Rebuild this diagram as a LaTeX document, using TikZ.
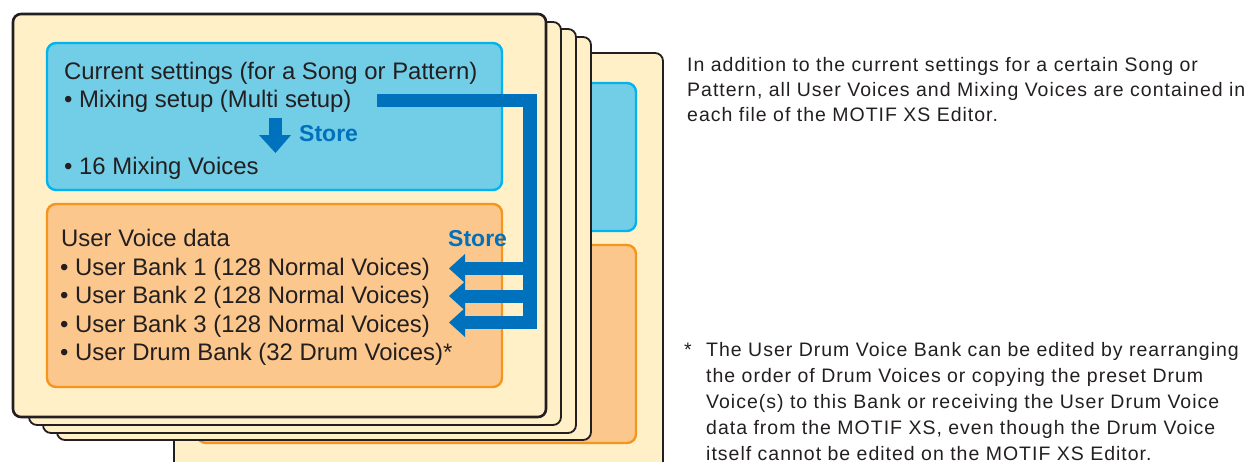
\documentclass[tikz,border=0pt]{standalone}
\usepackage{fontspec}
\setmainfont{Liberation Sans}
\newfontfamily\rfont[LetterSpace=5.1]{Liberation Sans}
\definecolor{cream}{HTML}{FFF0C8}
\definecolor{ink}{HTML}{231F20}
\definecolor{bluefill}{HTML}{72CDE7}
\definecolor{blueline}{HTML}{00B4F0}
\definecolor{orfill}{HTML}{FBC78C}
\definecolor{orline}{HTML}{F7941E}
\definecolor{arrowblue}{HTML}{0071BC}
\begin{document}
\begin{tikzpicture}[x=1pt,y=-1pt,
  card/.style={fill=cream, draw=ink, line width=1.8pt, rounded corners=8pt},
  frontcard/.style={card, line width=2.6pt},
  bluebox/.style={fill=bluefill, draw=blueline, line width=2.4pt, rounded corners=9pt},
  orbox/.style={fill=orfill, draw=orline, line width=2.4pt, rounded corners=9pt},
  arr/.style={fill=arrowblue, draw=none},
  ltxt/.style={anchor=base west, inner sep=0pt, text=ink, font=\fontsize{23.9}{28}\selectfont},
  rtxt/.style={anchor=base west, inner sep=0pt, text=ink, font=\rfont\fontsize{19.5}{24}\selectfont},
  storetxt/.style={anchor=base west, inner sep=0pt, text=arrowblue, font=\bfseries\fontsize{23}{28}\selectfont}]
\useasboundingbox (0,0) rectangle (1247,461);
\clip (0,0) rectangle (1247,461);
% back card
\draw[card] (174,53) rectangle (663,500);
\draw[bluebox] (200,83) rectangle (636,231);
\draw[orbox] (197,245) rectangle (636,443);
% stacked cards
\draw[card] (57,37) rectangle (591,440);
\draw[card] (43,29) rectangle (576,433);
\draw[card] (29,22) rectangle (561,425);
\draw[frontcard] (13,14) rectangle (546,417);
% front boxes
\draw[bluebox] (47,43) rectangle (502,190);
\draw[orbox] (47,204) rectangle (502,387);
% big store arrow
\fill[arr] (377,94) rectangle (537,107);
\fill[arr] (523,94) rectangle (537,329);
\foreach \c/\t/\b in {268.5/262/275, 296/289.5/302.5, 322.5/316/329}{
  \fill[arr] (462,\t) rectangle (524,\b);
  \fill[arr] (449,\c) -- (465,\c-14.5) -- (465,\c+14.5) -- cycle;
}
% down arrow
\fill[arr] (269,118) rectangle (282,136);
\fill[arr] (259,135) -- (291,135) -- (275.5,153) -- cycle;
% left texts
\node[ltxt] (cs) at (64,79) {Current settings (for a Song or Pattern)};
\node[ltxt] (mx) at (64,107) {• Mixing setup (Multi setup)};
\node[storetxt] (st1) at (299,141) {Store};
\node[ltxt] (mv) at (64,174) {• 16 Mixing Voices};
\node[ltxt] (uv) at (61,246) {User Voice data};
\node[storetxt] (st2) at (448,246) {Store};
\node[ltxt] (b1) at (60,275) {• User Bank 1 (128 Normal Voices)};
\node[ltxt] (b2) at (60,303.5) {• User Bank 2 (128 Normal Voices)};
\node[ltxt] (b3) at (60,332) {• User Bank 3 (128 Normal Voices)};
\node[ltxt] (b4) at (60,360) {• User Drum Bank (32 Drum Voices)*};
% right texts
\node[rtxt] (r1) at (687,71) {In addition to the current settings for a certain Song or};
\node[rtxt] (r2) at (687,96.3) {Pattern, all User Voices and Mixing Voices are contained in};
\node[rtxt] (r3) at (687,121.6) {each file of the MOTIF XS Editor.};
\node[rtxt] (fa) at (684,356) {*};
\node[rtxt] (f1) at (706,356) {The User Drum Voice Bank can be edited by rearranging};
\node[rtxt] (f2) at (706,382) {the order of Drum Voices or copying the preset Drum};
\node[rtxt] (f3) at (706,408) {Voice(s) to this Bank or receiving the User Drum Voice};
\node[rtxt] (f4) at (706,434) {data from the MOTIF XS, even though the Drum Voice};
\node[rtxt] (f5) at (706,460) {itself cannot be edited on the MOTIF XS Editor.};
\end{tikzpicture}
\end{document}
